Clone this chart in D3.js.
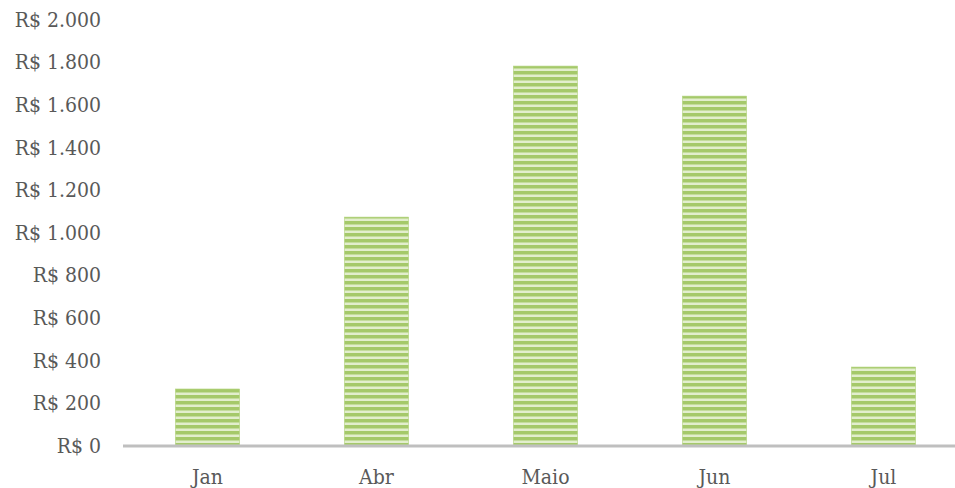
<!DOCTYPE html>
<html>
<head>
<meta charset="utf-8">
<script src="https://cdn.jsdelivr.net/npm/d3@7"></script>
<style>
  body { margin: 0; background: #fff; }
  text { font-family: "DejaVu Serif Condensed", "DejaVu Serif", serif; fill: #595959; }
</style>
</head>
<body>
<svg width="955" height="488"></svg>
<script>
var months = ["Jan", "Abr", "Maio", "Jun", "Jul"];
var values = [263, 1070, 1779, 1638, 366];
var yTicks = [0, 200, 400, 600, 800, 1000, 1200, 1400, 1600, 1800, 2000];

var svg = d3.select("svg");

var x = d3.scaleBand().domain(months).range([123, 968])
    .paddingInner(0.62).paddingOuter(0.31);
var y = d3.scaleLinear().domain([0, 2000]).range([445, 19]);

// striped fill
var pat = svg.append("defs").append("pattern")
    .attr("id", "stripes")
    .attr("patternUnits", "userSpaceOnUse")
    .attr("width", 8).attr("height", 6);
pat.append("rect").attr("width", 8).attr("height", 6).attr("fill", "#a5c96a");
pat.append("rect").attr("y", 3).attr("width", 8).attr("height", 2).attr("fill", "#e2eecd");
pat.append("rect").attr("y", 2).attr("width", 8).attr("height", 1).attr("fill", "#c4dc9c");

var fmt = function(d) {
    return "R$ " + d3.format(",")(d).replace(/,/g, ".");
};

svg.append("g")
    .attr("class", "y axis")
    .attr("transform", "translate(101,0)")
    .call(d3.axisLeft(y).tickValues(yTicks).tickFormat(fmt).tickSize(0).tickPadding(0))
    .call(function(g) { g.select(".domain").remove(); })
    .selectAll("text")
    .attr("font-size", 21)
    .attr("textLength", null)
    .attr("dy", "0.35em");

svg.append("g")
    .selectAll("rect")
    .data(values)
    .enter().append("rect")
    .attr("x", function(d, i) { return x(months[i]); })
    .attr("y", function(d) { return y(d); })
    .attr("width", x.bandwidth())
    .attr("height", function(d) { return y(0) - y(d); })
    .attr("fill", "url(#stripes)")
    .attr("stroke", "#b3d37f")
    .attr("stroke-width", 0.6);

svg.append("line")
    .attr("x1", 123).attr("x2", 955)
    .attr("y1", y(0) + 1).attr("y2", y(0) + 1)
    .attr("stroke", "#bfbfbf")
    .attr("stroke-width", 3);

svg.append("g")
    .attr("class", "x axis")
    .attr("transform", "translate(0,466)")
    .call(d3.axisBottom(x).tickSize(0).tickPadding(0))
    .call(function(g) { g.select(".domain").remove(); })
    .selectAll("text")
    .attr("font-size", 21)
    .attr("dy", "0.85em");
</script>
</body>
</html>
